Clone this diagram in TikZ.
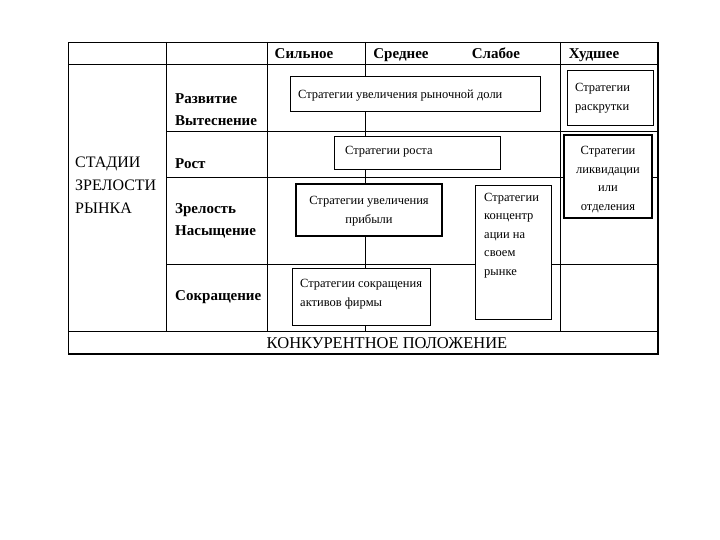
\documentclass[tikz,border=0pt]{standalone}
\usepackage{fontspec}
\setmainfont{Liberation Serif}
\begin{document}
\begin{tikzpicture}[x=1pt,y=-1pt,
  grid/.style={line width=0.9pt},
  shadow/.style={line width=2pt},
  box/.style={draw, fill=white, line width=1pt, inner sep=0pt},
  hdr/.style={font=\bfseries\fontsize{15}{22}\selectfont, inner sep=0pt, anchor=base},
  rowlbl/.style={font=\bfseries\fontsize{15}{22}\selectfont, align=left, anchor=west, inner sep=0pt},
  big/.style={font=\fontsize{16}{23}\selectfont, inner sep=0pt},
  small/.style={font=\fontsize{12.5}{18.5}\selectfont, inner sep=0pt}
]
\useasboundingbox (0,0) rectangle (720,540);
% table grid
\draw[grid] (68,42) rectangle (657,354);
\draw[grid] (68,64) -- (657,64);
\draw[grid] (166,42) -- (166,331);
\draw[grid] (267,42) -- (267,331);
\draw[grid] (365,42) -- (365,331);
\draw[grid] (560,42) -- (560,331);
\draw[grid] (166,131) -- (657,131);
\draw[grid] (166,177) -- (657,177);
\draw[grid] (166,264) -- (657,264);
\draw[grid] (68,331) -- (657,331);
\draw[shadow] (68,354) -- (658,354) -- (658,42);

% header
\node[hdr] (h1) at (304,58.5) {Сильное};
\node[hdr] (h2) at (401,58.5) {Среднее};
\node[hdr] (h3) at (496,58.5) {Слабое};
\node[hdr] (h4) at (594,58.5) {Худшее};

% left column
\node[big, align=left, anchor=west] (stages) at (75,185) {СТАДИИ\\ЗРЕЛОСТИ\\РЫНКА};

% row labels
\node[rowlbl] (r1) at (175,109.5) {Развитие\\Вытеснение};
\node[rowlbl] (r2) at (175,164) {Рост};
\node[rowlbl] (r3) at (175,220.5) {Зрелость\\Насыщение};
\node[rowlbl] (r4) at (175,297.5) {Сокращение};

% bottom caption
\node[big, font=\fontsize{16.5}{23}\selectfont] (pos) at (387,343) {КОНКУРЕНТНОЕ ПОЛОЖЕНИЕ};

% strategy boxes
\node[box, minimum width=250, minimum height=35] (b1) at (415,94.5) {};
\node[small, anchor=west] at (298,96) {Стратегии увеличения рыночной доли};

\node[box, minimum width=86, minimum height=55] (b2) at (610,98.5) {};
\node[small, anchor=west, align=left] at (575,98) {Стратегии\\раскрутки};

\node[box, minimum width=166, minimum height=33] (b3) at (417,153.5) {};
\node[small, anchor=west] at (345,152) {Стратегии роста};

\node[box, minimum width=88, minimum height=83, line width=1.4pt] (b4) at (608,176.5) {};
\node[small, align=center] at (608,179.5) {Стратегии\\ликвидации\\или\\отделения};

\node[box, minimum width=146, minimum height=52, line width=1.4pt] (b5) at (369,210) {};
\node[small, align=center] at (369,211) {Стратегии увеличения\\прибыли};

\node[box, minimum width=76, minimum height=133] (b6) at (513,252.5) {};
\node[small, align=left, anchor=north west] at (484,193) {Стратегии\\концентр\\ации на\\своем\\рынке};

\node[box, minimum width=138, minimum height=57] (b7) at (361,296.5) {};
\node[small, align=left, anchor=west] at (300,294) {Стратегии сокращения\\активов фирмы};
\end{tikzpicture}
\end{document}
